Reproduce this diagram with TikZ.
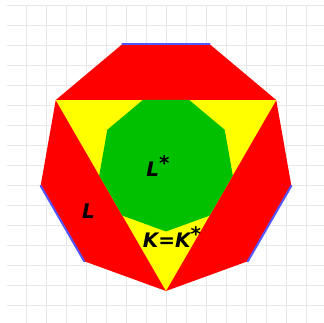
\documentclass[tikz,border=0pt]{standalone}
\usepackage{fontspec}
\usetikzlibrary{calc}
\newfontfamily\labelfont{DejaVu Sans}[BoldItalicFont={DejaVu Sans Bold Oblique}]
\definecolor{gridgray}{RGB}{232,232,232}
\definecolor{redfill}{RGB}{255,0,0}
\definecolor{yellowfill}{RGB}{255,255,0}
\definecolor{greenfill}{RGB}{0,192,0}
\definecolor{blueedge}{RGB}{85,85,255}
\tikzset{
  gridline/.style={draw=gridgray, line width=0.8pt},
  blueside/.style={draw=blueedge, line width=2pt, line cap=round},
  setlabel/.style={inner sep=0pt, anchor=base, font=\labelfont\bfseries\itshape\fontsize{20}{24}\selectfont}
}
\newcommand{\starsup}{\raisebox{0.33em}{*}}
\begin{document}
\begin{tikzpicture}[x=1pt,y=1pt]
\useasboundingbox (0,0) rectangle (324,323);
\fill[white] (0,0) rectangle (324,323);
% grid
\foreach \k in {0,...,15} {
  \draw[gridline] (7,{318-20*\k}) -- (324,{318-20*\k});
}
\foreach \k in {0,...,14} {
  \draw[gridline] ({26.7+20*\k},318) -- ({26.7+20*\k},0);
}
\coordinate (c) at (166,159.3);
% outer nonagon vertices
\foreach \i in {0,...,8} {
  \coordinate (o\i) at ($(c)+({30+40*\i}:127.3)$);
  \coordinate (g\i) at ($(c)+({30+40*\i}:67.8)$);
}
% outer nonagon (red)
\fill[redfill] (o0) -- (o1) -- (o2) -- (o3) -- (o4) -- (o5) -- (o6) -- (o7) -- (o8) -- cycle;
% triangle (yellow)
\fill[yellowfill] (o0) -- (o3) -- (o6) -- cycle;
% inner nonagon (green)
\fill[greenfill] (g0) -- (g1) -- (g2) -- (g3) -- (g4) -- (g5) -- (g6) -- (g7) -- (g8) -- cycle;
% blue sides
\draw[blueside] (o1) -- (o2);
\draw[blueside] (o4) -- (o5);
\draw[blueside] (o7) -- (o8);
% labels
\node[setlabel] (lstar) at (158,146.3) {L\starsup};
\node[setlabel] (lbl) at (88.5,104.7) {L};
\node[setlabel] (kk) at (172,75) {K=K\starsup};
\end{tikzpicture}
\end{document}
